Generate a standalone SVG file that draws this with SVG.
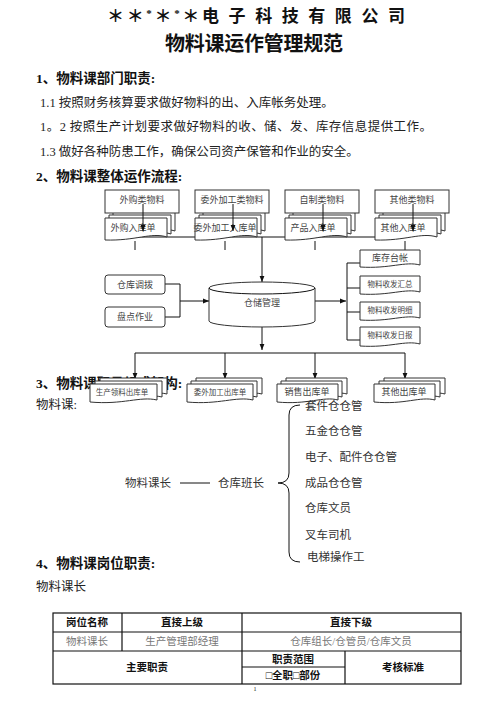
<svg xmlns="http://www.w3.org/2000/svg" width="496" height="702" viewBox="0 0 496 702">
<defs>
<style>
text{font-family:'Liberation Serif','Noto Sans CJK SC',serif;dominant-baseline:central;fill:#222}
.h{font-weight:bold;font-size:13.5px;fill:#111}
.b{font-size:12.5px}
.t{font-weight:bold;fill:#111}
.n{font-size:9px;fill:#444;text-anchor:middle}
.s{font-size:7.5px;fill:#444;text-anchor:middle}
.o{font-size:11.5px;fill:#333}
.box{fill:#fff;stroke:#333;stroke-width:1}
.doc{fill:#fff;stroke:#333;stroke-width:1}
.ln{fill:none;stroke:#111;stroke-width:1}
.tb{fill:none;stroke:#111;stroke-width:1.2}
.th{font-weight:bold;font-size:10.5px;fill:#111;text-anchor:middle}
.tg{font-size:10.5px;fill:#777;text-anchor:middle}
</style>
<marker id="ar" viewBox="0 0 10 10" refX="10" refY="5" markerWidth="6" markerHeight="6" orient="auto" markerUnits="userSpaceOnUse">
<path d="M0,1 L10,5 L0,9 Z" fill="#111"/>
</marker>
</defs>
<rect width="496" height="702" fill="#fff"/>

<g id="titles">
<text class="t" x="107" y="16" font-size="17" textLength="298" lengthAdjust="spacing">＊＊<tspan font-size="11" dy="-3">*</tspan><tspan dy="3">＊</tspan><tspan font-size="11" dy="-3">*</tspan><tspan dy="3">＊电 子 科 技 有 限 公 司</tspan></text>
<text class="t" x="165" y="44" font-size="20" textLength="178" lengthAdjust="spacing">物料课运作管理规范</text>
</g>

<g id="section1">
<text class="h" x="36" y="78">1、物料课部门职责:</text>
<text class="b" x="40" y="103">1.1 按照财务核算要求做好物料的出、入库帐务处理。</text>
<text class="b" x="40" y="127" textLength="392" lengthAdjust="spacing">1。2 按照生产计划要求做好物料的收、储、发、库存信息提供工作。</text>
<text class="b" x="40" y="152">1.3 做好各种防患工作，确保公司资产保管和作业的安全。</text>
<text class="h" x="36" y="176">2、物料课整体运作流程:</text>
</g>

<g id="connectors">
<path class="ln" d="M135,237 H405"/>
<path class="ln" d="M135,241 V250 M225,241 V250 M315,241 V250 M405,241 V250"/>
<path class="ln" d="M262,237 V282" marker-end="url(#ar)"/>
<path class="ln" d="M165,284 H180 V317 H165"/>
<path class="ln" d="M180,301 H209" marker-end="url(#ar)"/>
<path class="ln" d="M315,301 H346" marker-end="url(#ar)"/>
<path class="ln" d="M360,263 H347 V340 H360 M347,288 H360 M347,312 H360"/>
<path class="ln" d="M262,327 V350" marker-end="url(#ar)"/>
<path class="ln" d="M135,353 H405"/>
<path class="ln" d="M135,353 V379" marker-end="url(#ar)"/>
<path class="ln" d="M225,353 V379" marker-end="url(#ar)"/>
<path class="ln" d="M315,353 V379" marker-end="url(#ar)"/>
<path class="ln" d="M405,353 V379" marker-end="url(#ar)"/>
<path class="ln" d="M180,483 H210"/>
<path class="ln" d="M300,405 Q289,405 289,415 V473 Q289,483 278,483 Q289,483 289,493 V552 Q289,562 300,562"/>
</g>

<g id="n-waigou">
<path class="doc" d="M113,212 h62 v19 c-16,-5 -31,4 -62,3 z"/>
<path class="doc" d="M109,215 h62 v19 c-16,-5 -31,4 -62,3 z"/>
<path class="doc" d="M105,218 h62 v19 c-16,-5 -31,4 -62,3 z"/>
<text class="n" x="133" y="228" font-size="10">外购入库单</text>
<rect class="box" x="105" y="190" width="74" height="23"/>
<text class="n" x="142" y="200">外购类物料</text>
<path class="ln" d="M143,204 V231" marker-end="url(#ar)"/>
</g>
<g id="n-weiwai">
<path class="doc" d="M203,212 h62 v19 c-16,-5 -31,4 -62,3 z"/>
<path class="doc" d="M199,215 h62 v19 c-16,-5 -31,4 -62,3 z"/>
<path class="doc" d="M195,218 h62 v19 c-16,-5 -31,4 -62,3 z"/>
<text class="n" x="225" y="228" font-size="9">委外加工入库单</text>
<rect class="box" x="195" y="190" width="74" height="23"/>
<text class="n" x="232" y="200">委外加工类物料</text>
<path class="ln" d="M233,204 V231" marker-end="url(#ar)"/>
</g>
<g id="n-zizhi">
<path class="doc" d="M293,212 h62 v19 c-16,-5 -31,4 -62,3 z"/>
<path class="doc" d="M289,215 h62 v19 c-16,-5 -31,4 -62,3 z"/>
<path class="doc" d="M285,218 h62 v19 c-16,-5 -31,4 -62,3 z"/>
<text class="n" x="313" y="228" font-size="10">产品入库单</text>
<rect class="box" x="285" y="190" width="74" height="23"/>
<text class="n" x="322" y="200">自制类物料</text>
<path class="ln" d="M323,204 V231" marker-end="url(#ar)"/>
</g>
<g id="n-qita">
<path class="doc" d="M383,212 h62 v19 c-16,-5 -31,4 -62,3 z"/>
<path class="doc" d="M379,215 h62 v19 c-16,-5 -31,4 -62,3 z"/>
<path class="doc" d="M375,218 h62 v19 c-16,-5 -31,4 -62,3 z"/>
<text class="n" x="403" y="228" font-size="10">其他入库单</text>
<rect class="box" x="375" y="190" width="74" height="23"/>
<text class="n" x="412" y="200">其他类物料</text>
<path class="ln" d="M413,204 V231" marker-end="url(#ar)"/>
</g>

<g id="n-diaobo">
<rect class="box" x="105" y="275" width="60" height="19" rx="3"/>
<text class="n" x="135" y="284.5" font-size="9.5">仓库调拨</text>
</g>
<g id="n-pandian">
<rect class="box" x="105" y="307" width="60" height="20" rx="3"/>
<text class="n" x="135" y="317" font-size="9.5">盘点作业</text>
</g>

<g id="n-cangchu">
<path class="box" d="M209,288 A53,6 0 0,1 315,288 V321 A53,6 0 0,1 209,321 Z"/>
<path class="ln" d="M209,288 A53,6 0 0,0 315,288" stroke="#333"/>
<text class="n" x="262" y="303">仓储管理</text>
</g>

<g id="n-taizhang">
<path class="doc" d="M360,250 h60 v15 c-15,-4 -30,4 -60,2 z"/>
<text class="n" x="390" y="257.5">库存台帐</text>
</g>
<g id="n-huizong">
<path class="doc" d="M360,276 h60 v16 c-15,-4 -30,4 -60,2 z"/>
<text class="s" x="390" y="284">物料收发汇总</text>
</g>
<g id="n-mingxi">
<path class="doc" d="M360,302 h60 v16 c-15,-4 -30,4 -60,2 z"/>
<text class="s" x="390" y="310">物料收发明细</text>
</g>
<g id="n-ribao">
<path class="doc" d="M360,327 h60 v17 c-15,-4 -30,4 -60,2 z"/>
<text class="s" x="390" y="335.5">物料收发日报</text>
</g>

<text class="h" x="36" y="383">3、物料课职员组成架构:</text>

<g id="n-shengchan">
<path class="doc" d="M100,378 h67 v16 c-17,-4 -34,5 -67,2 z"/>
<path class="doc" d="M95,381 h67 v16 c-17,-4 -34,5 -67,2 z"/>
<path class="doc" d="M90,384 h67 v16 c-17,-4 -34,5 -67,2 z"/>
<text class="s" x="122" y="392">生产领料出库单</text>
</g>
<g id="n-weiwaichu">
<path class="doc" d="M196,378 h66 v16 c-17,-4 -34,5 -66,2 z"/>
<path class="doc" d="M191,381 h66 v16 c-17,-4 -34,5 -66,2 z"/>
<path class="doc" d="M187,384 h66 v16 c-17,-4 -34,5 -66,2 z"/>
<text class="s" x="220" y="392" font-size="8">委外加工出库单</text>
</g>
<g id="n-xiaoshou">
<path class="doc" d="M286,378 h61 v16 c-15,-4 -30,5 -61,2 z"/>
<path class="doc" d="M281,381 h61 v16 c-15,-4 -30,5 -61,2 z"/>
<path class="doc" d="M277,384 h61 v16 c-15,-4 -30,5 -61,2 z"/>
<text class="n" x="307" y="392" font-size="9.5">销售出库单</text>
</g>
<g id="n-qitachu">
<path class="doc" d="M384,378 h61 v16 c-15,-4 -30,5 -61,2 z"/>
<path class="doc" d="M379,381 h61 v16 c-15,-4 -30,5 -61,2 z"/>
<path class="doc" d="M374,384 h61 v16 c-15,-4 -30,5 -61,2 z"/>
<text class="n" x="404" y="392">其他出库单</text>
</g>

<g id="org">
<text class="b" x="36" y="405">物料课:</text>
<text class="o" x="125" y="483">物料课长</text>
<text class="o" x="218" y="483">仓库班长</text>
<text class="o" x="305" y="406">套件仓仓管</text>
<text class="o" x="305" y="431">五金仓仓管</text>
<text class="o" x="305" y="457">电子、配件仓仓管</text>
<text class="o" x="305" y="483">成品仓仓管</text>
<text class="o" x="305" y="508">仓库文员</text>
<text class="o" x="305" y="535">叉车司机</text>
<text class="o" x="307" y="557" font-size="9.5">电梯操作工</text>
</g>

<g id="section4">
<text class="h" x="36" y="563">4、物料课岗位职责:</text>
<text class="b" x="36" y="587">物料课长</text>
</g>

<g id="table">
<rect class="tb" x="53" y="613" width="408" height="71"/>
<path class="tb" d="M53,632 H461 M53,651 H461 M242,667 H345 M122,613 V651 M242,613 V684 M345,651 V684"/>
<text class="th" x="87" y="622.5">岗位名称</text>
<text class="th" x="182" y="622.5">直接上级</text>
<text class="th" x="351" y="622.5">直接下级</text>
<text class="tg" x="87" y="641.5">物料课长</text>
<text class="tg" x="182" y="641.5">生产管理部经理</text>
<text class="tg" x="351" y="641.5">仓库组长/仓管员/仓库文员</text>
<text class="th" x="147" y="667">主要职责</text>
<text class="th" x="293" y="659">职责范围</text>
<text class="th" x="293" y="675.5">□全职□部份</text>
<text class="th" x="403" y="667">考核标准</text>
<text x="255" y="689" font-size="6" text-anchor="middle">1</text>
</g>
</svg>
